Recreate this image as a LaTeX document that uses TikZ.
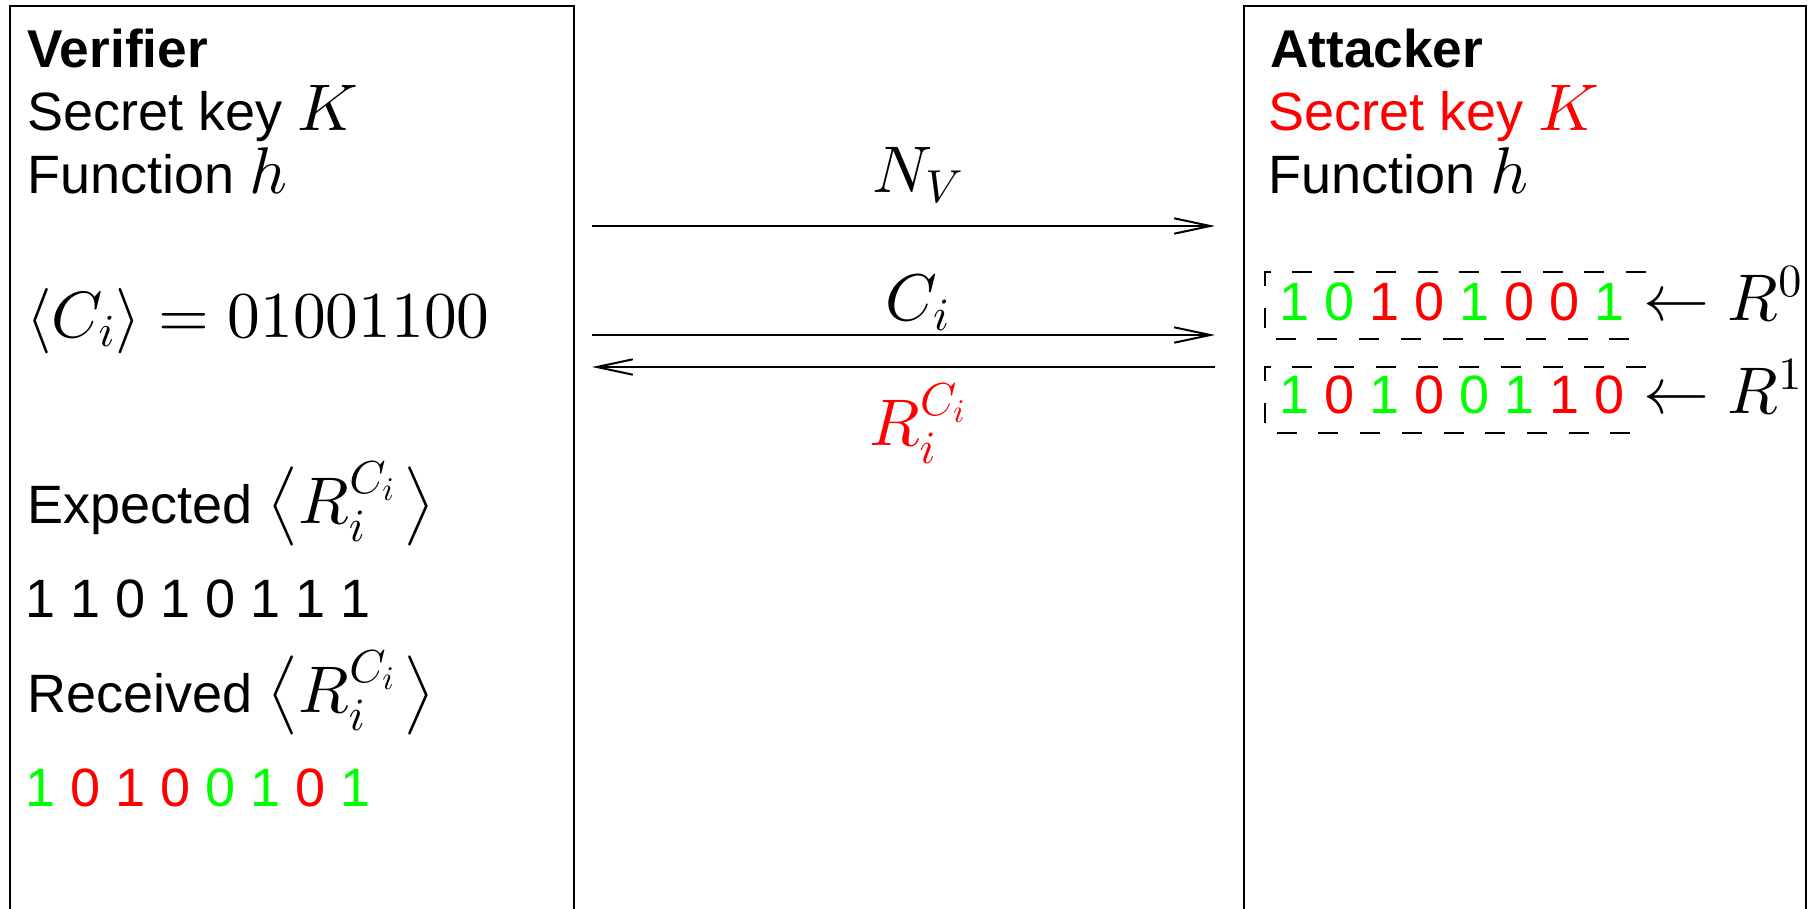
\documentclass[tikz,border=0pt]{standalone}
\usepackage[no-math]{fontspec}
\newfontfamily\af{Liberation Sans}
\DeclareFontFamily{OT1}{cmr}{\hyphenchar\font45 }
\DeclareFontShape{OT1}{cmr}{m}{n}{<->cmr10}{}
\DeclareFontFamily{OML}{cmm}{\skewchar\font127 }
\DeclareFontShape{OML}{cmm}{m}{it}{<->cmmi10}{}
\DeclareFontFamily{OMS}{cmsy}{\skewchar\font48 }
\DeclareFontShape{OMS}{cmsy}{m}{n}{<->cmsy10}{}
\DeclareFontFamily{OMX}{cmex}{}
\DeclareFontShape{OMX}{cmex}{m}{n}{<->cmex10}{}
\usetikzlibrary{arrows.meta}
\definecolor{vgreen}{RGB}{0,255,0}
\definecolor{vred}{RGB}{255,0,0}
\newcommand{\mth}[1]{{\fontsize{33}{33}\selectfont$#1$}}
\newcommand{\gbit}[1]{\textcolor{vgreen}{#1}}
\newcommand{\rbit}[1]{\textcolor{vred}{#1}}
\newcommand{\bigla}{\mathopen{\vcenter{\hbox{\usefont{OMX}{cmex}{m}{n}\char"0A}}}}
\newcommand{\bigra}{\mathclose{\vcenter{\hbox{\usefont{OMX}{cmex}{m}{n}\char"0B}}}}
\begin{document}
\begin{tikzpicture}[x=0.5pt,y=-0.5pt,
  txt/.style={inner sep=0pt, anchor=base west, font=\af\fontsize{27}{32}\selectfont},
  ttl/.style={inner sep=0pt, anchor=base west, font=\af\bfseries\fontsize{26.6}{32}\selectfont},
  mathtxt/.style={inner sep=0pt, anchor=base west, font=\fontsize{33}{33}\selectfont},
  lbl/.style={inner sep=0pt, anchor=base, font=\fontsize{33}{33}\selectfont},
  boxline/.style={line width=1pt},
  msg/.style={line width=1pt, -{Straight Barb[length=18pt,width=7.7pt,line width=1pt]}},
  dbox/.style={line width=1pt, dash pattern=on 10pt off 10.85pt},
]
\path[use as bounding box] (0,0) rectangle (1814,909);
% boxes
\draw[boxline] (10,909) -- (10,6) -- (574,6) -- (574,909);
\draw[boxline] (1244,909) -- (1244,6) -- (1806,6) -- (1806,909);
% verifier texts
\node[ttl] (vt) at (27,68) {Verifier};
\node[txt] (vk) at (27,131) {Secret key \mth{K}};
\node[txt] (vh) at (27,194) {Function \mth{h}};
\node[mathtxt, font=\fontsize{32.7}{33}\selectfont] (vc) at (26,337) {$\langle C_i\rangle = 01001100$};
\node[txt] (ve) at (27,523) {Expected \mth{\bigla R_i^{C_i}\mkern2mu\bigra}};
\node[txt] (vex) at (25,617) {1 1 0 1 0 1 1 1};
\node[txt] (vr) at (27,712) {Received \mth{\bigla R_i^{C_i}\mkern2mu\bigra}};
\node[txt] (vrx) at (25,806) {\gbit{1} \rbit{0} \rbit{1} \rbit{0} \gbit{0} \gbit{1} \rbit{0} \gbit{1}};
% attacker texts
\node[ttl] (at) at (1270,68) {Attacker};
\node[txt, text=vred] (ak) at (1268,131) {Secret key \mth{K}};
\node[txt] (ah) at (1268,194) {Function \mth{h}};
\node[txt] (ar0) at (1279,320) {\gbit{1} \gbit{0} \rbit{1} \rbit{0} \gbit{1} \rbit{0} \rbit{0} \gbit{1}};
\node[mathtxt] (ar0l) at (1643,320) {$\leftarrow R^0$};
\node[txt] (ar1) at (1279,413) {\gbit{1} \rbit{0} \gbit{1} \rbit{0} \gbit{0} \gbit{1} \rbit{1} \rbit{0}};
\node[mathtxt] (ar1l) at (1643,413) {$\leftarrow R^1$};
\draw[dbox] (1646,272) -- (1265,272) -- (1265,339) -- (1632,339);
\draw[dbox] (1646,366.7) -- (1265,366.7) -- (1265,432.7) -- (1632,432.7);
% messages
\coordinate (n1s) at (592,226);
\coordinate (n1e) at (1215,226);
\coordinate (c1s) at (592,335);
\coordinate (c1e) at (1215,335);
\coordinate (r1s) at (1215,367);
\coordinate (r1e) at (592,367);
\draw[msg] (n1s) -- (n1e);
\draw[msg] (c1s) -- (c1e);
\draw[msg] (r1s) -- (r1e);
\node[lbl] (nv) at (918,193) {$N_V$};
\node[lbl] (ci) at (918,321) {$C_i$};
\node[lbl, text=vred] (rci) at (918,445) {$R_i^{C_i}$};
\end{tikzpicture}
\end{document}
